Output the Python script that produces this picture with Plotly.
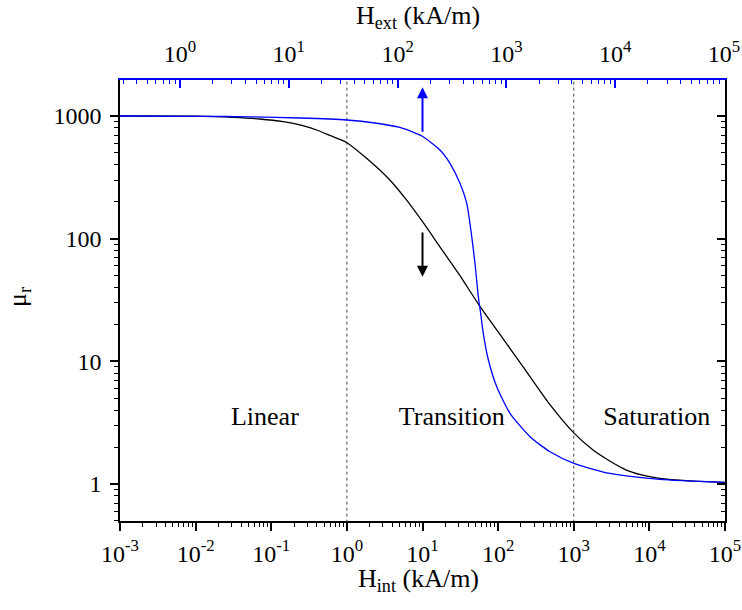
import numpy as np
import plotly.graph_objects as go

# Black curve: mu_r vs internal field (bottom axis)
h_int = [1e-3, 0.0103, 0.0314, 0.0708, 0.144, 0.239, 0.398, 0.596, 1.0, 1.82, 3.70, 6.21,
         10.4, 16.9, 31.1, 57.2, 116, 214, 482, 979, 1800, 2990, 4970, 8160, 13700, 34100, 1e5]
mu_int = [1000, 996, 976, 945, 898, 845, 769, 694, 606, 452, 301, 205,
          133, 86.3, 50.1, 28.2, 15.3, 9.02, 4.45, 2.65, 1.89, 1.54, 1.30, 1.18, 1.11, 1.06, 1.03]

# Blue curve: mu_r vs external field (top axis)
h_ext = [0.281, 1.53, 4.40, 12.7, 34.1, 62.0, 105, 167, 245, 303, 375, 432, 480, 514, 552, 580,
         613, 682, 815, 1079, 1648, 2517, 4180, 8950, 25800, 1e5]
mu_ext = [1000, 994, 985, 963, 928, 877, 806, 687, 528, 411, 282, 194, 104, 63, 33.6, 24.6,
          16.9, 10.3, 6.21, 3.77, 2.43, 1.83, 1.47, 1.22, 1.09, 1.03]

# Region boundaries (H_int) and region labels
boundaries = [1, 1000]
region_names = ["Linear", "Transition", "Saturation"]
region_x = [10 ** -1.084, 10 ** 1.388, 10 ** 4.097]
region_y = [10 ** 0.538, 10 ** 0.538, 10 ** 0.538]

x_ticks = [1e-3, 1e-2, 1e-1, 1e0, 1e1, 1e2, 1e3, 1e4, 1e5]
x_ticktext = ["10<sup>-3</sup>", "10<sup>-2</sup>", "10<sup>-1</sup>", "10<sup>0</sup>",
              "10<sup>1</sup>", "10<sup>2</sup>", "10<sup>3</sup>", "10<sup>4</sup>", "10<sup>5</sup>"]
x2_ticks = [1e0, 1e1, 1e2, 1e3, 1e4, 1e5]
x2_ticktext = ["10<sup>0</sup>", "10<sup>1</sup>", "10<sup>2</sup>", "10<sup>3</sup>",
               "10<sup>4</sup>", "10<sup>5</sup>"]
y_ticks = [1, 10, 100, 1000]
y_ticktext = ["1", "10", "100", "1000"]


def minor_vals(lo, hi):
    vals = []
    for d in range(lo, hi + 1):
        for m in range(2, 10):
            vals.append(m * 10.0 ** d)
    return vals


FONT = "Liberation Serif"
BLUE = "#0000ff"
TICK_FS = 24
TITLE_FS = 26

fig = go.Figure()

for b in boundaries:
    fig.add_trace(go.Scatter(x=[b, b], y=[0.1, 1e4], mode="lines",
                             line=dict(color="#444444", width=1, dash="3px,3px"),
                             hoverinfo="skip"))

fig.add_trace(go.Scatter(x=h_int, y=mu_int, mode="lines",
                         line=dict(color="black", width=1.3, shape="spline", smoothing=0.6)))
fig.add_trace(go.Scatter(x=h_ext, y=mu_ext, mode="lines", xaxis="x2", yaxis="y",
                         line=dict(color=BLUE, width=1.3, shape="spline", smoothing=0.6)))
fig.add_trace(go.Scatter(x=region_x, y=region_y, mode="text", text=region_names,
                         textfont=dict(family=FONT, size=TITLE_FS, color="black")))
# dummy trace for the right-hand axis
fig.add_trace(go.Scatter(x=[1], y=[1], yaxis="y2", mode="markers",
                         marker=dict(opacity=0), hoverinfo="skip"))

# arrows (log coordinates)
fig.add_annotation(x=1.0, y=3.234, ax=1.0, ay=2.859, xref="x", yref="y", axref="x", ayref="y",
                   showarrow=True, arrowhead=2, arrowsize=1.1, arrowwidth=2, arrowcolor=BLUE, text="")
fig.add_annotation(x=1.0, y=1.69, ax=1.0, ay=2.0625, xref="x", yref="y", axref="x", ayref="y",
                   showarrow=True, arrowhead=2, arrowsize=1.1, arrowwidth=2, arrowcolor="black", text="")

# axis titles as paper annotations
L, R, T, B = 120, 725, 80, 521
W, H = R - L, B - T


def px_x(p):
    return (p - L) / W


def px_y(p):
    return (B - p) / H


fig.add_annotation(text="H<sub>ext</sub> (kA/m)", xref="paper", yref="paper",
                   x=px_x(418), y=px_y(17), xanchor="center", yanchor="middle", showarrow=False,
                   font=dict(family=FONT, size=TITLE_FS, color="black"))
fig.add_annotation(text="H<sub>int</sub> (kA/m)", xref="paper", yref="paper",
                   x=px_x(418), y=px_y(580), xanchor="center", yanchor="middle", showarrow=False,
                   font=dict(family=FONT, size=TITLE_FS, color="black"))
fig.add_annotation(text="μ<sub>r</sub>", xref="paper", yref="paper", textangle=-90,
                   x=px_x(19), y=px_y(297), xanchor="center", yanchor="middle", showarrow=False,
                   font=dict(family=FONT, size=TITLE_FS, color="black"))

yr = [-0.3016, 3.2935]

fig.update_layout(
    width=742, height=610,
    margin=dict(l=L, r=742 - R, t=T, b=610 - B),
    plot_bgcolor="white", paper_bgcolor="white",
    showlegend=False,
    font=dict(family=FONT, size=TICK_FS, color="black"),
    xaxis=dict(type="log", range=[-3, 5], tickmode="array", tickvals=x_ticks, ticktext=x_ticktext,
               ticks="outside", ticklen=8, tickwidth=1.5, tickcolor="black", automargin=False,
               showline=True, linecolor="black", linewidth=1.5, showgrid=False, zeroline=False,
               minor=dict(tickmode="array", tickvals=minor_vals(-3, 4), ticks="outside",
                          ticklen=4, tickwidth=1.2, tickcolor="black", showgrid=False),
               tickfont=dict(family=FONT, size=TICK_FS), ticklabelstandoff=2),
    xaxis2=dict(type="log", overlaying="x", side="top", range=[-0.5515, 5.009],
                tickmode="array", tickvals=x2_ticks, ticktext=x2_ticktext, automargin=False,
                ticks="inside", ticklen=8, tickwidth=1.5, tickcolor=BLUE,
                showline=True, linecolor=BLUE, linewidth=2, showgrid=False, zeroline=False,
                minor=dict(tickmode="array", tickvals=minor_vals(-1, 4), ticks="inside",
                           ticklen=4, tickwidth=1.2, tickcolor=BLUE, showgrid=False),
                tickfont=dict(family=FONT, size=TICK_FS, color="black"), ticklabelstandoff=6),
    yaxis=dict(type="log", range=yr, tickmode="array", tickvals=y_ticks, ticktext=y_ticktext,
               ticks="outside", ticklen=8, tickwidth=1.5, tickcolor="black", automargin=False,
               showline=True, linecolor="black", linewidth=1.5, showgrid=False, zeroline=False,
               minor=dict(tickmode="array", tickvals=minor_vals(-1, 3), ticks="outside",
                          ticklen=4, tickwidth=1.2, tickcolor="black", showgrid=False),
               tickfont=dict(family=FONT, size=TICK_FS), ticklabelstandoff=4),
    yaxis2=dict(type="log", overlaying="y", side="right", range=yr, tickmode="array",
                tickvals=y_ticks, showticklabels=False, automargin=False,
                ticks="inside", ticklen=8, tickwidth=1.5, tickcolor="black",
                showline=True, linecolor="black", linewidth=1.5, showgrid=False, zeroline=False,
                minor=dict(tickmode="array", tickvals=minor_vals(-1, 3), ticks="inside",
                           ticklen=4, tickwidth=1.2, tickcolor="black", showgrid=False)),
)

fig.write_html("out.html")
